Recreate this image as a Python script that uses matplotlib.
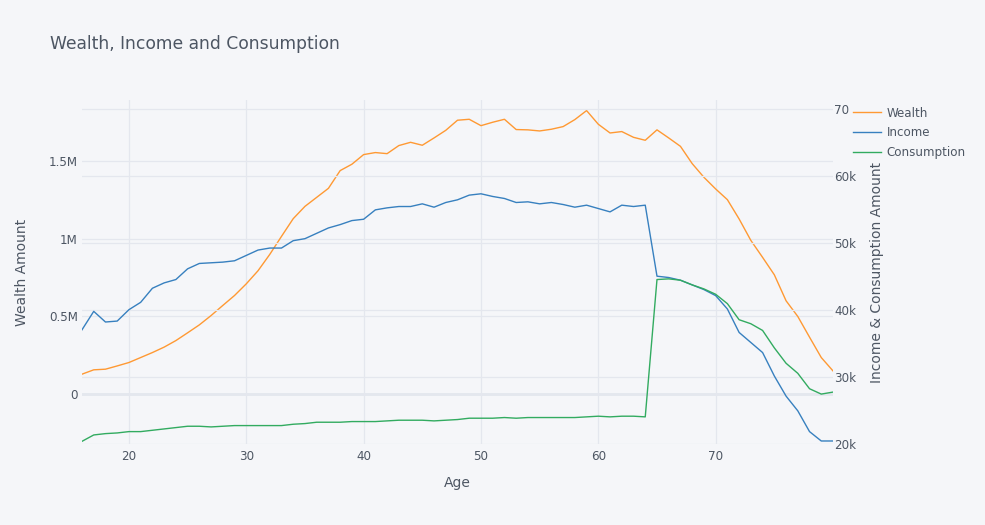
import matplotlib
matplotlib.use('Agg')
import matplotlib.pyplot as plt
from matplotlib.ticker import FuncFormatter, FixedLocator

## data
ages = list(range(16, 81))

wealth = [0.129, 0.157, 0.161, 0.182, 0.204, 0.236, 0.268, 0.303, 0.345, 0.395,
          0.446, 0.506, 0.571, 0.635, 0.710, 0.794, 0.899, 1.015, 1.129, 1.208,
          1.266, 1.324, 1.438, 1.479, 1.541, 1.554, 1.547, 1.599, 1.620, 1.601,
          1.648, 1.697, 1.762, 1.768, 1.727, 1.749, 1.768, 1.702, 1.700, 1.693,
          1.704, 1.721, 1.766, 1.824, 1.736, 1.680, 1.689, 1.652, 1.633, 1.700,
          1.648, 1.594, 1.483, 1.395, 1.320, 1.251, 1.127, 0.989, 0.880, 0.768,
          0.601, 0.500, 0.367, 0.236, 0.150]
wealth = [w * 1e6 for w in wealth]

income = [37.0, 39.75, 38.16, 38.3, 40.0, 41.1, 43.2, 44.0, 44.5, 46.1,
          46.9, 47.0, 47.1, 47.3, 48.1, 48.9, 49.2, 49.2, 50.3, 50.6,
          51.4, 52.2, 52.7, 53.3, 53.5, 54.9, 55.2, 55.4, 55.4, 55.8,
          55.3, 56.0, 56.4, 57.1, 57.3, 56.9, 56.6, 56.0, 56.1, 55.8,
          56.0, 55.7, 55.3, 55.6, 55.1, 54.6, 55.6, 55.4, 55.6, 45.0,
          44.8, 44.4, 43.7, 43.0, 42.1, 40.1, 36.6, 35.1, 33.6, 30.1,
          27.1, 24.9, 21.8, 20.4, 20.4]
income = [v * 1000 for v in income]

consumption = [20.35, 21.3, 21.5, 21.6, 21.8, 21.8, 22.0, 22.2, 22.4, 22.6,
               22.6, 22.5, 22.6, 22.7, 22.7, 22.7, 22.7, 22.7, 22.9, 23.0,
               23.2, 23.2, 23.2, 23.3, 23.3, 23.3, 23.4, 23.5, 23.5, 23.5,
               23.4, 23.5, 23.6, 23.8, 23.8, 23.8, 23.9, 23.8, 23.9, 23.9,
               23.9, 23.9, 23.9, 24.0, 24.1, 24.0, 24.1, 24.1, 24.0, 44.5,
               44.6, 44.4, 43.7, 43.1, 42.3, 40.9, 38.5, 37.9, 36.9, 34.3,
               32.0, 30.5, 28.2, 27.4, 27.7]
consumption = [v * 1000 for v in consumption]

x_ticks = [20, 30, 40, 50, 60, 70]
wealth_ticks = [0, 0.5e6, 1e6, 1.5e6]
income_ticks = [20000, 30000, 40000, 50000, 60000, 70000]

## pearl-ish theme
bg = '#F5F6F9'
grid = '#E4E7EE'
txt = '#4D5663'
plt.rcParams['font.family'] = ['DejaVu Sans']

W, H = 985, 525
fig = plt.figure(figsize=(W / 100, H / 100), dpi=100, facecolor=bg)
left, right, top, bottom = 82, 833, 100, 444
ax = fig.add_axes([left / W, 1 - bottom / H, (right - left) / W, (bottom - top) / H])
ax.set_facecolor(bg)
ax2 = ax.twinx()

l1, = ax.plot(ages, wealth, color='#FF9933', linewidth=1.0, label='Wealth')
l2, = ax2.plot(ages, income, color='#3780BF', linewidth=1.0, label='Income')
l3, = ax2.plot(ages, consumption, color='#32AB60', linewidth=1.0, label='Consumption')

ax.set_xlim(16, 80)
ax.set_ylim(-0.320e6, 1.892e6)
ax2.set_ylim(19950, 71300)

ax.xaxis.set_major_locator(FixedLocator(x_ticks))
ax.yaxis.set_major_locator(FixedLocator(wealth_ticks))
ax2.yaxis.set_major_locator(FixedLocator(income_ticks))


def fmt_m(v, pos):
    if v == 0:
        return '0'
    return f'{v / 1e6:g}M'


def fmt_k(v, pos):
    return f'{v / 1000:g}k'


ax.yaxis.set_major_formatter(FuncFormatter(fmt_m))
ax2.yaxis.set_major_formatter(FuncFormatter(fmt_k))

for a in (ax, ax2):
    for s in a.spines.values():
        s.set_visible(False)
    a.tick_params(length=0, labelsize=8.6, labelcolor=txt)
ax.tick_params(axis='x', pad=4)
ax.tick_params(axis='y', pad=3)
ax2.tick_params(axis='y', pad=1)

ax.grid(True, color=grid, linewidth=0.9)
ax2.grid(True, axis='y', color=grid, linewidth=0.9)
ax.axhline(0, color='#E1E5ED', linewidth=1.8, zorder=0.5)
ax.set_axisbelow(True)
ax2.set_axisbelow(True)

ax.set_xlabel('Age', fontsize=10, color=txt, labelpad=10)
ax.set_ylabel('Wealth Amount', fontsize=10, color=txt, labelpad=14)
ax2.set_ylabel('Income & Consumption Amount', fontsize=10, color=txt, labelpad=10)

fig.text(50 / W, 1 - 44 / H, 'Wealth, Income and Consumption', fontsize=12.3,
         color=txt, va='center', ha='left')

## legend box covers the 'k' of the top right label, like the original
leg = fig.legend(handles=[l1, l2, l3], loc='upper left',
                 bbox_to_anchor=(849 / W, 1 - 103 / H), frameon=True,
                 facecolor=bg, edgecolor=bg, framealpha=1, fancybox=False,
                 fontsize=8.6, labelcolor=txt, handlelength=2.4,
                 handletextpad=0.45, labelspacing=0.55, borderpad=0.3,
                 borderaxespad=0)

fig.savefig('out.png', dpi=100, facecolor=bg)
